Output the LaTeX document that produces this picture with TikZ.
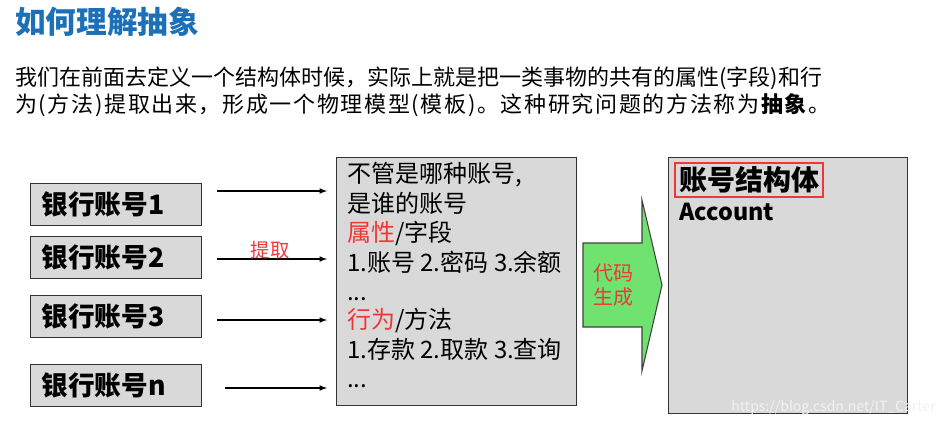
\documentclass[tikz,border=0pt]{standalone}
\usepackage{fontspec}
\setmainfont{Noto Sans CJK SC}
\usetikzlibrary{positioning}
\definecolor{titleblue}{RGB}{28,112,184}
\definecolor{boxgray}{RGB}{217,217,217}
\definecolor{notered}{RGB}{240,55,55}
\definecolor{arrowgreen}{RGB}{112,226,112}

\begin{document}
\begin{tikzpicture}[x=0.75pt,y=-0.75pt,
    konto/.style={draw=black!80,line width=1.1pt,fill=boxgray,anchor=north west,
      minimum width=128pt,minimum height=31.5pt,inner xsep=8pt,text width=112pt,align=left,
      font=\fontsize{20}{24}\selectfont\bfseries},
    zeile/.style={anchor=west,inner sep=0pt,text height=13pt,text depth=3pt,font=\fontsize{18}{22}\selectfont},
    absatz/.style={anchor=west,inner sep=0pt,font=\fontsize{16.5}{20}\selectfont},
    pfeil/.style={->,>=latex,line width=0.9pt,shorten >=6.75pt}]
    \useasboundingbox (0,0) rectangle (946,426);
    % Ueberschrift und Text
    \node [anchor=west,inner sep=0pt,text=titleblue,font=\fontsize{23}{27}\selectfont\bfseries] (titel) at (15,22) {如何理解抽象};
    \node [absatz] (zeileA) at (15,78) {我们在前面去定义一个结构体时候，实际上就是把一类事物的共有的属性(字段)和行};
    \node [absatz] (zeileB) at (15,105) {\addfontfeature{LetterSpace=7.5}为(方法)提取出来，形成一个物理模型(模板)。这种研究问题的方法称为\textbf{抽象}。};
    % Bankkonten
    \foreach \y/\k in {183/1,236/2,295/3,364/n}
        \node [konto] (konto\k) at (30,\y) {银行账号\k};
    % Sammelbox
    \node [draw=black!80,line width=1.1pt,fill=boxgray,anchor=north west,minimum width=180pt,minimum height=186pt] (feld) at (336,157) {};
    \node [zeile] (f1) at (347,176) {不管是哪种账号,};
    \node [zeile] (f2) at (347,206) {是谁的账号};
    \node [zeile] (f3) at (347,235) {\textcolor{notered}{属性}/字段};
    \node [zeile] (f4) at (347,265) {1.账号 2.密码 3.余额};
    \node [zeile] (f5) at (347,294) {...};
    \node [zeile] (f6) at (347,322) {\textcolor{notered}{行为}/方法};
    \node [zeile] (f7) at (347,352) {1.存款 2.取款 3.查询};
    \node [zeile] (f8) at (347,381) {...};
    % Pfeile
    \foreach \y/\x [count=\i] in {191/217,259/217,320/217,388/225} {
        \coordinate (start\i) at (\x,\y);
        \draw [pfeil] (start\i) -- (start\i -| feld.west);
    }
    \node [text=notered,font=\fontsize{14.5}{17}\selectfont] (extrakt) at (270,250) {提取};
    % gruener Pfeil
    \draw [fill=arrowgreen,draw=black!75,line width=0.8pt] (583,243) -- (642,243) -- (642,200) -- (662,285) -- (642,371) -- (642,327) -- (583,327) -- cycle;
    \node [text=notered,align=center,font=\fontsize{15}{18}\selectfont] (gen) at (613,285) {代码\\生成};
    % Struktur
    \node [draw=black!80,line width=1.1pt,fill=boxgray,anchor=north west,minimum width=179.25pt,minimum height=192pt] (struct) at (668,157) {};
    \node [draw=notered,line width=1.5pt,anchor=north west,inner xsep=3pt,inner ysep=1pt,minimum height=25.5pt,font=\fontsize{21}{24}\selectfont\bfseries] (sname) at (674,162) {账号结构体};
    \node [anchor=west,inner sep=0pt,font=\fontsize{17.5}{20}\selectfont\bfseries] (acc) at (679,212) {Account};
    \node [anchor=east,inner sep=0pt,text=white!90!gray,font=\fontsize{10.5}{12}\selectfont] (wm) at (936,408) {https://blog.csdn.net/IT\_Carter};
\end{tikzpicture}
\end{document}
